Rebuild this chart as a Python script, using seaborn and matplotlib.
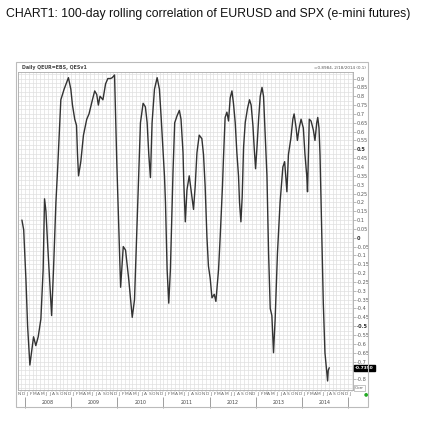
import matplotlib
matplotlib.use('Agg')
import matplotlib.pyplot as plt
import matplotlib.dates as mdates
from matplotlib.ticker import FixedLocator, FuncFormatter, NullFormatter, MultipleLocator
from matplotlib.patches import Rectangle
import seaborn as sns
import pandas as pd
import numpy as np

title = 'CHART1: 100-day rolling correlation of EURUSD and SPX (e-mini futures)'
header_left = 'Daily QEUR=EBS, QESv1'
header_right = '=0.8984, 2/18/2014 (0.1)'

# values
dates = ['2007-12-08', '2007-12-22', '2008-01-09', '2008-01-22', '2008-02-09', '2008-03-09', '2008-03-27',
         '2008-04-15', '2008-05-06', '2008-05-24', '2008-06-04', '2008-06-15', '2008-06-28', '2008-07-30',
         '2008-08-14', '2008-09-02', '2008-09-15', '2008-10-11', '2008-11-06', '2008-12-10', '2008-12-29',
         '2009-01-11', '2009-01-29', '2009-02-12', '2009-02-20', '2009-02-28', '2009-03-18', '2009-04-08',
         '2009-05-04', '2009-05-22', '2009-06-18', '2009-07-06', '2009-07-22', '2009-08-04', '2009-08-17',
         '2009-09-09', '2009-09-30', '2009-10-18', '2009-11-08', '2009-11-22', '2009-12-10', '2009-12-28',
         '2010-01-27', '2010-02-17', '2010-03-07', '2010-04-02', '2010-04-29', '2010-05-17', '2010-06-07',
         '2010-06-20', '2010-07-03', '2010-07-24', '2010-08-11', '2010-08-25', '2010-09-07', '2010-09-20',
         '2010-10-03', '2010-10-22', '2010-11-12', '2010-11-30', '2010-12-13', '2010-12-30',
         '2011-01-09', '2011-01-17', '2011-01-30', '2011-02-12', '2011-02-25', '2011-03-18', '2011-03-31',
         '2011-04-19', '2011-05-07', '2011-05-20', '2011-06-05', '2011-06-11', '2011-06-23', '2011-07-06',
         '2011-07-24', '2011-08-09', '2011-08-27', '2011-09-09', '2011-09-23', '2011-10-11', '2011-11-01',
         '2011-11-14', '2011-11-27', '2011-12-11', '2011-12-23',
         '2012-01-06', '2012-01-20', '2012-02-07', '2012-02-20', '2012-03-12', '2012-03-25', '2012-04-12',
         '2012-04-20', '2012-05-03', '2012-05-17', '2012-05-30', '2012-06-12', '2012-06-26', '2012-07-08',
         '2012-07-22', '2012-08-04', '2012-08-17', '2012-08-25', '2012-09-05', '2012-09-15', '2012-09-26',
         '2012-10-09', '2012-10-27', '2012-11-12', '2012-11-25', '2012-12-09', '2012-12-19', '2012-12-30',
         '2013-01-10', '2013-01-23', '2013-02-05', '2013-02-19', '2013-03-03', '2013-03-17', '2013-03-30',
         '2013-04-12', '2013-04-25', '2013-05-08', '2013-05-21', '2013-06-03', '2013-06-21', '2013-07-12',
         '2013-08-03', '2013-08-17', '2013-09-04', '2013-09-16', '2013-10-05', '2013-10-21', '2013-10-31',
         '2013-11-16', '2013-11-26', '2013-12-10', '2013-12-25',
         '2014-01-12', '2014-01-25', '2014-02-08', '2014-02-14', '2014-02-28', '2014-03-14', '2014-04-01',
         '2014-04-14', '2014-04-28', '2014-05-06', '2014-05-16', '2014-05-24', '2014-06-07', '2014-06-19',
         '2014-07-02', '2014-07-16', '2014-07-23', '2014-07-28', '2014-08-05']
corr = [0.10, 0.045, -0.24, -0.50, -0.72, -0.56, -0.61, -0.56, -0.46, -0.18, 0.22, 0.15, -0.03, -0.44,
        -0.18, 0.20, 0.38, 0.78, 0.84, 0.905, 0.84,
        0.75, 0.67, 0.635, 0.47, 0.35, 0.43, 0.58, 0.67, 0.70, 0.78, 0.83, 0.81, 0.75, 0.80,
        0.78, 0.87, 0.90, 0.90, 0.905, 0.92, 0.42,
        -0.28, -0.05, -0.07, -0.24, -0.45, -0.35, 0.10, 0.38, 0.65, 0.76, 0.74, 0.65, 0.47, 0.34,
        0.65, 0.84, 0.905, 0.84, 0.69, 0.47,
        0.35, 0.20, -0.18, -0.37, -0.18, 0.38, 0.65, 0.69, 0.72, 0.67, 0.48, 0.31, 0.09, 0.27,
        0.35, 0.26, 0.16, 0.29, 0.48, 0.58, 0.56, 0.47, 0.29, 0.005, -0.16,
        -0.23, -0.34, -0.32, -0.36, -0.18, 0.005, 0.29, 0.45, 0.68, 0.71, 0.66, 0.79, 0.83, 0.76,
        0.65, 0.48, 0.35, 0.20, 0.09, 0.23, 0.51, 0.65, 0.73, 0.78, 0.75, 0.635, 0.51, 0.39,
        0.51, 0.67, 0.80, 0.85, 0.80, 0.56, 0.35, -0.09, -0.40, -0.44, -0.65, -0.46, -0.09, 0.20,
        0.40, 0.43, 0.26, 0.47, 0.56, 0.67, 0.70, 0.62, 0.55, 0.62, 0.67,
        0.62, 0.47, 0.35, 0.26, 0.67, 0.66, 0.61, 0.55, 0.65, 0.68, 0.62, 0.47, 0.005, -0.37,
        -0.65, -0.76, -0.81, -0.75, -0.735]

years = [2008, 2009, 2010, 2011, 2012, 2013, 2014]
month_letters = ['J', 'F', 'M', 'A', 'M', 'J', 'J', 'A', 'S', 'O', 'N', 'D']
ytick_vals = np.round(np.arange(-0.8, 0.901, 0.05), 2)

df = pd.DataFrame({'date': pd.to_datetime(dates), 'corr': corr})

sns.set_theme(style='white')
plt.rcParams['axes.unicode_minus'] = False

W, H = 436, 421
fig = plt.figure(figsize=(W / 100, H / 100), dpi=100)
fig.patch.set_facecolor('white')
ax = fig.add_axes([18 / W, 1 - 390 / H, 335 / W, 318 / H])

sns.lineplot(data=df, x='date', y='corr', color='#333333', lw=1.0, ax=ax)
ax.set_xlim(pd.Timestamp('2007-11-07'), pd.Timestamp('2015-02-09'))
ax.set_ylim(-0.861, 0.937)
ax.set_xlabel('')
ax.set_ylabel('')

# y axis on the right
ax.yaxis.tick_right()
ax.yaxis.set_major_locator(FixedLocator(ytick_vals))
ax.yaxis.set_minor_locator(MultipleLocator(0.025))
ax.yaxis.set_major_formatter(FuncFormatter(lambda v, p: f'{round(v, 2):g}'))
ax.tick_params(axis='y', which='major', right=True, length=2, width=0.4, color='#888888',
               labelsize=3.6, labelcolor='#555555', pad=0.8)
ax.tick_params(axis='y', which='minor', right=False, length=0)

# x axis: month grid, month initials
ax.xaxis.set_major_locator(mdates.MonthLocator())
ax.xaxis.set_major_formatter(NullFormatter())
ax.xaxis.set_minor_locator(mdates.MonthLocator(bymonthday=15))
ax.xaxis.set_minor_formatter(FuncFormatter(lambda x, p: month_letters[mdates.num2date(x).month - 1]))
ax.tick_params(axis='x', which='major', bottom=True, length=1.5, width=0.3, color='#999999')
ax.tick_params(axis='x', which='minor', bottom=False, length=0, labelsize=3.2,
               labelcolor='#666666', pad=1.2)

ax.grid(which='major', axis='x', color='#e0e0e0', lw=0.5)
ax.grid(which='both', axis='y', color='#e0e0e0', lw=0.5)
for s in ax.spines.values():
    s.set_color('#aaaaaa')
    s.set_linewidth(0.6)

# year row
sec = ax.secondary_xaxis(-0.022)
sec.xaxis.set_major_locator(FixedLocator([mdates.date2num(pd.Timestamp(f'{y}-01-01')) for y in years + [years[-1] + 1]]))
sec.xaxis.set_major_formatter(NullFormatter())
sec.xaxis.set_minor_locator(FixedLocator([mdates.date2num(pd.Timestamp(f'{y}-07-01')) for y in years]))
sec.xaxis.set_minor_formatter(FuncFormatter(lambda x, p: str(mdates.num2date(x).year)))
sec.tick_params(which='major', length=8, width=0.5, color='#777777')
sec.tick_params(which='minor', bottom=True, labelbottom=True, length=0, labelsize=3.4,
                labelcolor='#444444', pad=2)
sec.spines['bottom'].set_visible(False)

# bold zero / half lines labels
fig.canvas.draw()
for lab in ax.get_yticklabels():
    if lab.get_text() in ('0.5', '0', '-0.5'):
        lab.set_fontweight('bold')
        lab.set_color('#333333')

# last value box
ax.text(1.006, corr[-1], f'{corr[-1]:.4f}', transform=ax.get_yaxis_transform(), fontsize=3.2,
        color='white', fontweight='bold', va='center', ha='left',
        bbox=dict(boxstyle='square,pad=0.25', fc='black', ec='black'))
ax.text(1.006, -0.85, 'Corr', transform=ax.get_yaxis_transform(), fontsize=3.2,
        color='#666666', va='center', ha='left',
        bbox=dict(boxstyle='square,pad=0.25', fc='white', ec='#999999', lw=0.4))
fig.text(366 / W, 1 - 394 / H, '\u25cf', color='#22aa22', fontsize=3.5, ha='center', va='center')

# panel frame + header
fig.add_artist(Rectangle((16 / W, 1 - 407 / H), 352 / W, 345 / H, transform=fig.transFigure,
                         fill=False, ec='#bbbbbb', lw=0.8))
fig.text(22 / W, 1 - 67 / H, header_left, fontsize=3.4, fontweight='bold', color='#444444',
         ha='left', va='center')
fig.text(366 / W, 1 - 68 / H, header_right, fontsize=3.0, color='#555555', ha='right', va='center')

fig.text(6 / W, 1 - 17 / H, title, fontsize=8.85, color='#111111', ha='left', va='baseline',
         family=['Liberation Sans', 'DejaVu Sans'])

plt.savefig('out.png', dpi=100)
